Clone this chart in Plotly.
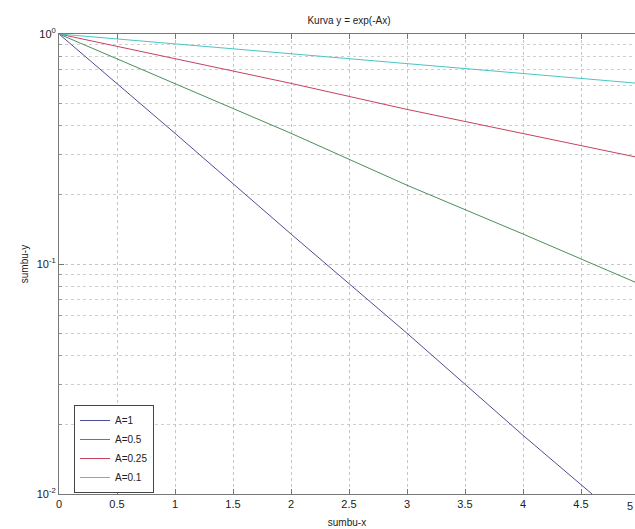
import plotly.graph_objects as go

x_vals = [0, 1, 2, 3, 4, 5]
y_A1 = [1.0, 0.37, 0.135, 0.05, 0.018, 0.0067]
y_A05 = [1.0, 0.61, 0.37, 0.22, 0.135, 0.082]
y_A025 = [1.0, 0.78, 0.61, 0.47, 0.37, 0.29]
y_A01 = [1.0, 0.905, 0.82, 0.74, 0.67, 0.61]

series_names = ["A=1", "A=0.5", "A=0.25", "A=0.1"]
series_vals = [y_A1, y_A05, y_A025, y_A01]
colors = ["#4e4e96", "#4a8f5a", "#c8405f", "#4cc4c4"]

x_ticks = [0, 0.5, 1, 1.5, 2, 2.5, 3, 3.5, 4, 4.5, 5]
x_ticktext = ["0", "0.5", "1", "1.5", "2", "2.5", "3", "3.5", "4", "4.5", "5"]
y_ticks = [0.01, 0.1, 1]
y_ticktext = ["10<sup>-2</sup>", "10<sup>-1</sup>", "10<sup>0</sup>"]
y_minor = [m * 10.0 ** e for e in (-2, -1) for m in range(2, 10)]

fig = go.Figure()
for name, vals, c in zip(series_names, series_vals, colors):
    fig.add_trace(go.Scatter(x=x_vals, y=vals, mode="lines", name=name,
                             line=dict(color=c, width=1)))

font = dict(family="Liberation Sans, Arial, sans-serif", size=11, color="#222")
fig.update_layout(
    width=635, height=529,
    margin=dict(l=59, r=0, t=34, b=35),
    paper_bgcolor="white", plot_bgcolor="white",
    font=font,
    title=dict(text="Kurva y = exp(-Ax)", x=(59 + 639) / 2 / 635, xanchor="center",
               y=1 - 20 / 529, yanchor="middle", font=dict(size=10, color="#222")),
    showlegend=True,
    legend=dict(x=15 / 576, y=(494 - 405) / 460, xanchor="left", yanchor="top",
                bgcolor="white", bordercolor="#444", borderwidth=1,
                font=dict(size=10, color="#222"), tracegroupgap=0,
                itemwidth=30),
)
fig.update_xaxes(
    range=[0, 576 / 116], tickvals=x_ticks, ticktext=x_ticktext,
    showline=True, linecolor="#777", linewidth=1, mirror="ticks",
    ticks="inside", ticklen=5, tickcolor="#777",
    showgrid=True, gridcolor="#c4c4c4", griddash="dot", gridwidth=1,
    zeroline=False,
    title=dict(text="sumbu-x", standoff=9, font=dict(size=10)),
)
fig.update_yaxes(
    type="log", range=[-2, 0], tickvals=y_ticks, ticktext=y_ticktext,
    showline=True, linecolor="#777", linewidth=1, mirror=False,
    ticks="inside", ticklen=5, tickcolor="#777",
    showgrid=True, gridcolor="#c4c4c4", griddash="dot", gridwidth=1,
    minor=dict(tickvals=y_minor, showgrid=True, gridcolor="#cfcfcf", griddash="dot",
               ticks="inside", ticklen=3, tickcolor="#999"),
    zeroline=False,
    title=dict(text="sumbu-y", standoff=6, font=dict(size=10)),
)
fig.add_annotation(text="5", xref="paper", yref="paper", x=1, y=0,
                   xanchor="right", yanchor="top", yshift=-4, showarrow=False,
                   font=dict(size=11, color="#222"))

fig.write_html("out.html")
